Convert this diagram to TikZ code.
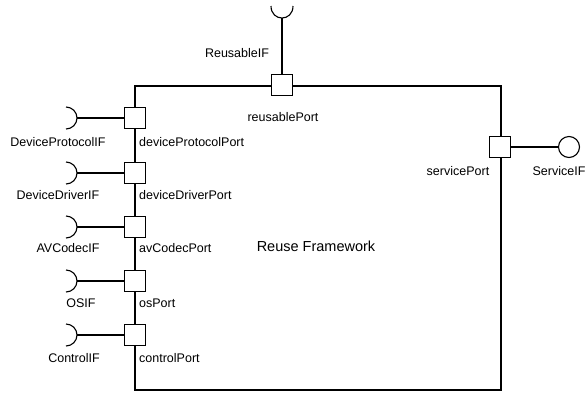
\documentclass[tikz,border=0pt]{standalone}
\usepackage{fontspec}
\setmainfont{Liberation Sans}
\begin{document}
\begin{tikzpicture}[x=1pt,y=-1pt,
  port/.style={draw, fill=white, line width=1.1pt, minimum size=21pt, inner sep=0pt},
  lbl/.style={font=\fontsize{12.5}{14}\selectfont, inner sep=0pt},
  wire/.style={line width=1.1pt}]
  \useasboundingbox (0,0) rectangle (585,394);

  % Component Reuse Framework
  \draw[wire] (135,86) rectangle (501,390);
  \node[lbl, font=\fontsize{14.5}{16}\selectfont] (title) at (316,246) {Reuse Framework};

  % Ports on the border
  \node[port] (reusablePort) at (282,85) {};
  \node[port] (servicePort) at (500,147) {};
  \node[port] (deviceProtocolPort) at (135,118) {};
  \node[port] (deviceDriverPort) at (135,173) {};
  \node[port] (avCodecPort) at (135,227) {};
  \node[port] (osPort) at (135,281) {};
  \node[port] (controlPort) at (135,335) {};

  % Provided interface
  \node[draw, circle, line width=1.1pt, minimum size=21pt, inner sep=0pt] (serviceIF) at (569,147) {};
  \draw[wire] (servicePort) -- (serviceIF);

  % Required interfaces (sockets)
  \coordinate (reusableS) at (282,18);
  \draw[wire] (reusableS) -- (reusablePort);
  \draw[wire] (271,6) .. controls (271,22) and (293,22) .. (293,6);
  \foreach \p/\y in {deviceProtocol/118, deviceDriver/173, avCodec/227, os/281, control/335}{
    \coordinate (\p S) at (77,\y);
    \draw[wire] (\p S) -- (\p Port);
    \draw[wire] (66,\y-11) arc[start angle=-90, end angle=90, radius=11];
  }

  % Labels
  \node[lbl] (reusableIFl) at (237,53) {ReusableIF};
  \node[lbl] (reusablePortl) at (283,117) {reusablePort};
  \node[lbl] (servicePortl) at (458,171) {servicePort};
  \node[lbl] (serviceIFl) at (559,171) {ServiceIF};
  \node[lbl] at (58,142) {DeviceProtocolIF};
  \node[lbl] at (58,195) {DeviceDriverIF};
  \node[lbl] at (68,248) {AVCodecIF};
  \node[lbl] at (81,303) {OSIF};
  \node[lbl] at (74,358) {ControlIF};
  \node[lbl, anchor=west] at (139,142) {deviceProtocolPort};
  \node[lbl, anchor=west] at (139,195) {deviceDriverPort};
  \node[lbl, anchor=west] at (139,248) {avCodecPort};
  \node[lbl, anchor=west] at (139,303) {osPort};
  \node[lbl, anchor=west] at (139,358) {controlPort};
\end{tikzpicture}
\end{document}
